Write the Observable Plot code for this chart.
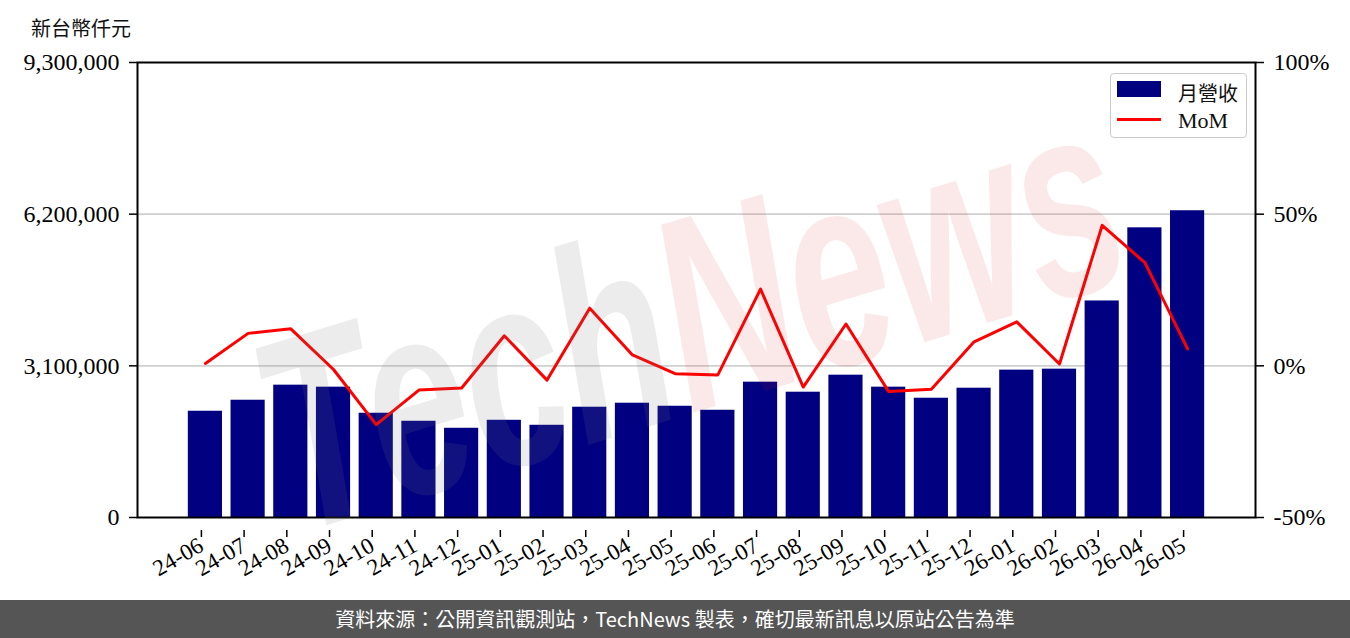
<!DOCTYPE html>
<html><head><meta charset="utf-8">
<script src="https://cdn.jsdelivr.net/npm/d3@7"></script>
<script src="https://cdn.jsdelivr.net/npm/@observablehq/plot@0.6"></script>
<style>
html,body{margin:0;padding:0;background:#fff;}
#page{position:relative;width:1350px;height:638px;overflow:hidden;background:#fff;}
#title{position:absolute;left:31px;top:13px;font:20px "Noto Sans CJK TC";color:#111;}
#chart{position:absolute;left:0;top:40px;width:1350px;height:560px;overflow:hidden;}
#chart svg{position:absolute;left:0;top:0;}
#chart svg g[aria-label="y-axis tick label"] text{font-size:24px;}
#chart svg g[aria-label="x-axis tick label"] text{font-size:23px;}
#footer{position:absolute;left:0;top:600px;width:1350px;height:38px;background:#555555;color:#fff;font:20px "Noto Sans CJK TC";text-align:center;line-height:38px;}
#legend{position:absolute;left:1110px;top:33px;width:135px;height:63px;border:1px solid #ccc;border-radius:4px;background:rgba(255,255,255,0.85);z-index:5;}
#legend .row{position:absolute;left:6px;height:20px;}
#legend .sw{position:absolute;left:0;}
#legend .lb{position:absolute;left:61px;top:-3px;white-space:nowrap;color:#111;}
#wm{position:absolute;left:690px;top:275px;transform:translate(-50%,-50%) rotate(-17deg) scaleX(0.72) scaleY(1.1);font:italic bold 250px "Liberation Sans";white-space:nowrap;pointer-events:none;line-height:1;z-index:3;}
</style></head>
<body>
<div id="page">
  <div id="title">新台幣仟元</div>
  <div id="chart"></div>
  <div id="footer">資料來源：公開資訊觀測站，TechNews 製表，確切最新訊息以原站公告為準</div>
</div>
<script>
const months = ["24-06","24-07","24-08","24-09","24-10","24-11","24-12","25-01","25-02","25-03","25-04","25-05","25-06","25-07","25-08","25-09","25-10","25-11","25-12","26-01","26-02","26-03","26-04","26-05"];
const revenue = [2172000,2397000,2705000,2664000,2131000,1967000,1824000,1987000,1885000,2254000,2336000,2274000,2192000,2766000,2561000,2909000,2664000,2438000,2643000,3012000,3032000,4426000,5921000,6270000];
const mom = [0.8,10.7,12.2,-1.2,-19.4,-8.0,-7.3,9.9,-4.7,19.0,3.6,-2.6,-3.0,25.3,-7.0,13.8,-8.5,-7.7,7.9,14.5,0.6,46.3,34.0,5.6];
const leftTicks = [0,3100000,6200000,9300000];
const rightTicks = [-50,0,50,100];
const legendLabels = ["月營收","MoM"];

const data = months.map((m,i)=>({month:m, revenue:revenue[i], mom:mom[i]}));

const common = {
  width:1350, height:560,
  marginTop:22, marginBottom:83, marginLeft:137, marginRight:95,
  style:{fontFamily:"Liberation Serif", fontSize:"22px", color:"#000", background:"transparent", overflow:"visible"}
};
const xOpts = {type:"band", domain:months, paddingInner:0.2, paddingOuter:1.19, round:false, label:null};

const chart = document.getElementById("chart");

const p1 = Plot.plot({
  ...common,
  x:xOpts,
  y:{domain:[0,9300000], label:null},
  marks:[
    Plot.ruleY(leftTicks.slice(1,3), {stroke:"#d0d0d0", strokeWidth:1.6}),
    Plot.barY(data, {x:"month", y:"revenue", fill:"#000080"}),
    Plot.axisY({ticks:leftTicks, tickFormat:d3.format(","), tickSize:8, tickPadding:10, label:null, strokeWidth:1.5}),
    Plot.axisX({tickRotate:-30, tickSize:7, tickPadding:6, label:null, strokeWidth:1.5, dx:-4, dy:13}),
    Plot.frame({stroke:"#000", strokeWidth:2})
  ]
});

const p2 = Plot.plot({
  ...common,
  x:{...xOpts, axis:null},
  y:{domain:[-50,100], label:null},
  marks:[
    Plot.lineY(data, {x:"month", y:"mom", stroke:"#ff0000", strokeWidth:3}),
    Plot.axisY({anchor:"right", ticks:rightTicks, tickFormat:d=>d+"%", tickSize:8, tickPadding:10, label:null, strokeWidth:1.5})
  ]
});

chart.appendChild(p1);
chart.appendChild(p2);

// watermark (translucent, over the marks)
const wm = document.createElement("div");
wm.id = "wm";
wm.innerHTML = '<span style="color:rgba(120,120,120,0.14)">Tech</span><span style="color:rgba(215,30,30,0.10)">News</span>';
chart.appendChild(wm);

// legend
const lg = document.createElement("div");
lg.id = "legend";
lg.innerHTML =
  '<div class="row" style="top:7px"><div class="sw" style="top:0;width:44px;height:16px;background:#000080"></div><div class="lb" style="font:20px \'Noto Sans CJK TC\'">'+legendLabels[0]+'</div></div>'+
  '<div class="row" style="top:36px"><div class="sw" style="top:8px;width:44px;height:3px;background:#ff0000"></div><div class="lb" style="font:22px \'Liberation Serif\';top:-2px">'+legendLabels[1]+'</div></div>';
chart.appendChild(lg);
</script>
</body></html>
